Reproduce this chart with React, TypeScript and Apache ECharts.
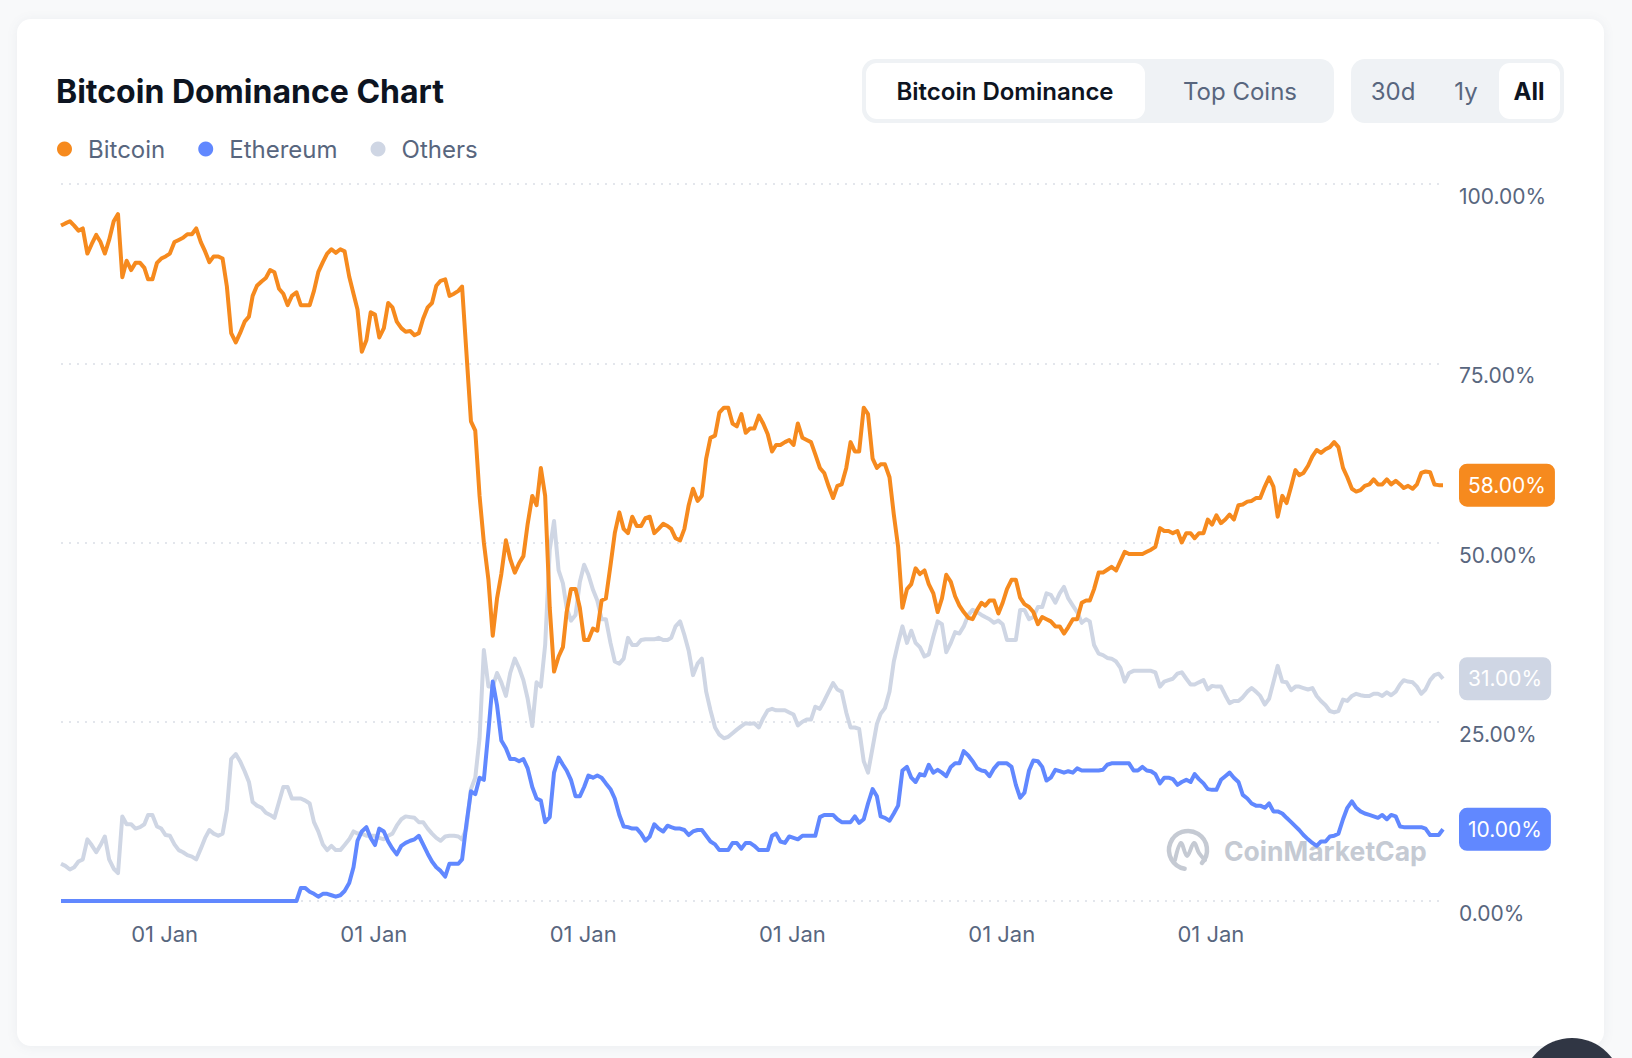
import React, { useEffect, useRef } from "react";
import * as echarts from "echarts";

// ---- data (semi-monthly samples) ----
const DATES: string[] = [
  "2013-05-01","2013-05-16","2013-06-01","2013-06-16","2013-07-01","2013-07-16","2013-08-01","2013-08-16","2013-09-01","2013-09-16","2013-10-01","2013-10-16","2013-11-01","2013-11-16","2013-12-01","2013-12-16",
  "2014-01-01","2014-01-16","2014-02-01","2014-02-16","2014-03-01","2014-03-16","2014-04-01","2014-04-16","2014-05-01","2014-05-16","2014-06-01","2014-06-16","2014-07-01","2014-07-16","2014-08-01","2014-08-16","2014-09-01","2014-09-16","2014-10-01","2014-10-16","2014-11-01","2014-11-16","2014-12-01","2014-12-16",
  "2015-01-01","2015-01-16","2015-02-01","2015-02-16","2015-03-01","2015-03-16","2015-04-01","2015-04-16","2015-05-01","2015-05-16","2015-06-01","2015-06-16","2015-07-01","2015-07-16","2015-08-01","2015-08-16","2015-09-01","2015-09-16","2015-10-01","2015-10-16","2015-11-01","2015-11-16","2015-12-01","2015-12-16",
  "2016-01-01","2016-01-16","2016-02-01","2016-02-16","2016-03-01","2016-03-16","2016-04-01","2016-04-16","2016-05-01","2016-05-16","2016-06-01","2016-06-16","2016-07-01","2016-07-16","2016-08-01","2016-08-16","2016-09-01","2016-09-16","2016-10-01","2016-10-16","2016-11-01","2016-11-16","2016-12-01","2016-12-16",
  "2017-01-01","2017-01-16","2017-02-01","2017-02-16","2017-03-01","2017-03-16","2017-04-01","2017-04-16","2017-05-01","2017-05-16","2017-06-01","2017-06-16","2017-07-01","2017-07-16","2017-08-01","2017-08-16","2017-09-01","2017-09-16","2017-10-01","2017-10-16","2017-11-01","2017-11-16","2017-12-01","2017-12-16",
  "2018-01-01","2018-01-16","2018-02-01","2018-02-16","2018-03-01","2018-03-16","2018-04-01","2018-04-16","2018-05-01","2018-05-16","2018-06-01","2018-06-16","2018-07-01","2018-07-16","2018-08-01","2018-08-16","2018-09-01","2018-09-16","2018-10-01","2018-10-16","2018-11-01","2018-11-16","2018-12-01","2018-12-16",
  "2019-01-01","2019-01-16","2019-02-01","2019-02-16","2019-03-01","2019-03-16","2019-04-01","2019-04-16","2019-05-01","2019-05-16","2019-06-01","2019-06-16","2019-07-01","2019-07-16","2019-08-01","2019-08-16","2019-09-01","2019-09-16","2019-10-01","2019-10-16","2019-11-01","2019-11-16","2019-12-01","2019-12-16",
  "2020-01-01","2020-01-16","2020-02-01","2020-02-16","2020-03-01","2020-03-16","2020-04-01","2020-04-16","2020-05-01","2020-05-16","2020-06-01","2020-06-16","2020-07-01","2020-07-16","2020-08-01","2020-08-16","2020-09-01","2020-09-16","2020-10-01","2020-10-16","2020-11-01","2020-11-16","2020-12-01","2020-12-16",
  "2021-01-01","2021-01-16","2021-02-01","2021-02-16","2021-03-01","2021-03-16","2021-04-01","2021-04-16","2021-05-01","2021-05-16","2021-06-01","2021-06-16","2021-07-01","2021-07-16","2021-08-01","2021-08-16","2021-09-01","2021-09-16","2021-10-01","2021-10-16","2021-11-01","2021-11-16","2021-12-01","2021-12-16",
  "2022-01-01","2022-01-16","2022-02-01","2022-02-16","2022-03-01","2022-03-16","2022-04-01","2022-04-16","2022-05-01","2022-05-16","2022-06-01","2022-06-16","2022-07-01","2022-07-16","2022-08-01","2022-08-16","2022-09-01","2022-09-16","2022-10-01","2022-10-16","2022-11-01","2022-11-16","2022-12-01","2022-12-16",
  "2023-01-01","2023-01-16","2023-02-01","2023-02-16","2023-03-01","2023-03-16","2023-04-01","2023-04-16","2023-05-01","2023-05-16","2023-06-01","2023-06-16","2023-07-01","2023-07-16","2023-08-01","2023-08-16","2023-09-01","2023-09-16","2023-10-01","2023-10-16","2023-11-01","2023-11-16","2023-12-01","2023-12-16",
  "2024-01-01","2024-01-16","2024-02-01","2024-02-16","2024-03-01","2024-03-16","2024-04-01","2024-04-16","2024-05-01","2024-05-16","2024-06-01","2024-06-16","2024-07-01","2024-07-16","2024-08-01","2024-08-16","2024-09-01","2024-09-16","2024-10-01","2024-10-16","2024-11-01","2024-11-16","2024-12-01","2024-12-16",
  "2025-01-01","2025-01-16","2025-02-01","2025-02-16","2025-03-01","2025-03-16","2025-04-01","2025-04-16","2025-05-01","2025-05-16","2025-06-01","2025-06-16","2025-07-01","2025-07-16","2025-08-01","2025-08-16","2025-09-01","2025-09-16","2025-10-01","2025-10-16","2025-11-01","2025-11-16","2025-12-01","2025-12-16",
  "2026-01-01","2026-01-16","2026-02-01","2026-02-16","2026-03-01","2026-03-16","2026-04-01","2026-04-16","2026-05-01","2026-05-16","2026-06-01","2026-06-16","2026-07-01","2026-07-16",
];

const BITCOIN: number[] = [
  94.2, 94.5, 94.8, 94.2, 93.5, 93.8, 90.3, 91.6, 92.9, 91.9, 90.3, 92.2, 94.8, 95.8, 87.0, 89.3,
  88.0, 89.0, 89.0, 88.3, 86.7, 86.7, 89.0, 89.6, 89.9, 90.3, 91.9, 92.2, 92.5, 93.0, 93.0, 93.8, 91.9, 90.6, 89.1, 89.9, 89.9, 89.6, 85.7, 79.2,
  77.9, 79.2, 80.8, 81.5, 84.4, 85.8, 86.4, 86.9, 88.0, 87.7, 85.4, 84.7, 83.1, 84.4, 84.9, 83.1, 83.1, 83.1, 85.1, 87.7, 89.1, 90.3, 90.9, 90.4,
  90.9, 90.6, 87.1, 84.7, 82.5, 76.6, 78.2, 82.1, 81.8, 78.6, 79.9, 83.4, 82.8, 80.8, 79.9, 79.4, 79.5, 78.9, 79.2, 81.2, 82.8, 83.4, 85.8, 86.5,
  86.7, 84.4, 84.7, 85.1, 85.7, 76.6, 66.9, 65.6, 56.5, 50.0, 44.8, 37.0, 42.2, 45.6, 50.3, 47.7, 45.8, 47.1, 48.1, 52.6, 56.5, 55.2, 60.4, 56.5,
  40.9, 32.0, 34.1, 35.4, 40.3, 43.5, 43.5, 40.9, 36.4, 36.4, 38.0, 37.7, 41.9, 42.2, 46.8, 51.3, 54.2, 51.9, 51.3, 53.6, 52.3, 52.3, 53.4, 53.6,
  51.3, 51.9, 52.6, 52.3, 51.9, 50.6, 50.3, 51.9, 55.2, 57.5, 55.8, 56.5, 61.7, 64.6, 64.9, 68.1, 68.8, 68.8, 66.6, 66.2, 67.9, 65.3, 65.9, 65.9,
  67.7, 66.6, 65.1, 62.7, 63.6, 63.6, 64.0, 64.3, 63.6, 66.6, 64.6, 64.3, 64.0, 62.3, 60.4, 59.7, 57.8, 56.2, 57.9, 58.1, 60.4, 64.0, 62.7, 62.7,
  68.8, 67.9, 61.7, 60.4, 60.9, 60.9, 59.1, 53.9, 49.4, 40.9, 43.5, 44.2, 46.4, 45.6, 46.1, 44.2, 42.9, 40.3, 42.2, 45.5, 44.5, 42.5, 41.2, 40.3,
  39.5, 39.3, 40.6, 41.6, 41.2, 41.9, 41.9, 40.1, 41.6, 43.5, 44.8, 44.8, 42.3, 41.4, 41.0, 40.3, 38.6, 39.6, 39.3, 39.0, 38.3, 38.3, 37.3, 38.2,
  39.3, 39.3, 41.6, 41.9, 41.9, 43.5, 45.8, 45.8, 46.2, 46.6, 46.1, 47.4, 48.7, 48.4, 48.4, 48.4, 48.4, 48.7, 49.0, 49.4, 52.0, 51.6, 51.6, 51.3,
  51.6, 50.0, 51.3, 51.3, 50.6, 51.3, 51.3, 53.2, 52.5, 53.8, 52.7, 53.2, 53.9, 53.2, 55.2, 55.3, 55.7, 55.8, 56.2, 56.2, 57.8, 59.1, 57.8, 53.6,
  56.5, 55.5, 57.8, 60.1, 59.4, 59.7, 60.7, 62.0, 62.9, 62.5, 63.0, 63.3, 64.0, 63.3, 60.4, 59.1, 57.5, 57.1, 57.3, 57.9, 58.1, 58.8, 58.1, 58.1,
  58.8, 58.1, 58.6, 58.1, 57.6, 57.9, 57.5, 58.1, 59.7, 59.9, 59.8, 58.1, 58.0, 58.0,
];

const ETHEREUM: number[] = [
  0, 0, 0, 0, 0, 0, 0, 0, 0, 0, 0, 0, 0, 0, 0, 0,
  0, 0, 0, 0, 0, 0, 0, 0, 0, 0, 0, 0, 0, 0, 0, 0, 0, 0, 0, 0, 0, 0, 0, 0,
  0, 0, 0, 0, 0, 0, 0, 0, 0, 0, 0, 0, 0, 0, 0, 1.8, 1.8, 1.3, 1.0, 0.6, 1.0, 1.0, 0.8, 0.6,
  0.8, 1.4, 2.5, 4.7, 8.4, 9.7, 10.3, 8.8, 7.8, 10.1, 9.7, 8.3, 7.3, 6.5, 7.7, 8.1, 8.4, 8.6, 9.1, 7.9, 6.6, 5.5, 4.7, 4.2,
  3.4, 5.2, 5.2, 5.2, 5.8, 10.7, 15.3, 14.9, 17.2, 16.9, 23.7, 30.6, 27.3, 22.4, 21.3, 19.8, 19.8, 19.5, 19.8, 18.5, 15.9, 14.3, 14.0, 11.0,
  11.7, 17.9, 20.0, 19.0, 18.2, 16.9, 14.6, 14.6, 15.9, 17.5, 17.2, 17.5, 17.2, 16.4, 15.6, 14.3, 12.0, 10.4, 10.3, 10.1, 10.1, 9.4, 8.4, 9.0,
  10.7, 10.1, 9.7, 10.5, 10.3, 10.1, 10.1, 9.9, 9.2, 9.7, 9.9, 9.9, 9.1, 8.3, 7.9, 7.1, 7.1, 7.1, 8.1, 8.1, 7.3, 8.1, 8.1, 7.7,
  7.1, 7.1, 7.1, 9.1, 9.4, 8.3, 8.1, 9.0, 8.8, 8.6, 9.1, 9.1, 9.1, 9.1, 11.7, 12.0, 12.0, 12.0, 11.4, 11.0, 11.0, 11.0, 11.8, 10.9,
  11.4, 13.6, 15.6, 14.6, 11.8, 11.6, 11.2, 12.2, 13.3, 18.2, 18.7, 17.2, 16.6, 17.7, 17.5, 19.0, 17.9, 18.3, 17.9, 17.4, 18.7, 19.2, 19.2, 20.9,
  20.3, 19.5, 18.5, 18.2, 18.1, 17.4, 18.5, 19.2, 19.2, 19.2, 18.7, 16.2, 14.4, 15.1, 18.2, 19.6, 19.5, 18.7, 16.8, 17.2, 18.3, 18.1, 17.9, 18.1,
  17.9, 18.5, 18.2, 18.2, 18.2, 18.2, 18.2, 18.3, 19.0, 19.2, 19.2, 19.2, 19.2, 19.2, 18.2, 18.2, 18.7, 18.2, 18.1, 17.7, 16.4, 17.2, 17.2, 17.0,
  16.2, 16.6, 16.9, 16.6, 17.7, 17.0, 16.4, 15.6, 15.5, 15.5, 16.9, 17.4, 17.9, 17.2, 16.6, 14.8, 14.3, 13.6, 13.3, 13.3, 13.0, 13.6, 12.5, 12.5,
  12.2, 11.6, 11.0, 10.4, 9.9, 9.2, 8.6, 8.1, 7.7, 8.3, 8.3, 9.0, 9.1, 9.4, 11.4, 13.0, 13.9, 13.0, 12.5, 12.2, 12.0, 11.8, 11.6, 12.0,
  11.4, 12.0, 11.8, 10.4, 10.3, 10.3, 10.3, 10.3, 10.3, 10.1, 9.2, 9.2, 9.2, 10.0,
];

const OTHERS: number[] = [
  5.2, 4.9, 4.4, 4.7, 5.5, 5.8, 8.6, 7.8, 6.8, 7.8, 9.0, 5.8, 4.5, 3.9, 11.8, 10.7,
  10.7, 10.1, 10.3, 10.7, 12.0, 12.0, 10.4, 10.1, 9.2, 9.1, 7.9, 7.1, 6.8, 6.4, 6.2, 5.8, 7.3, 8.8, 9.9, 9.4, 9.1, 9.4, 12.7, 19.8,
  20.5, 19.5, 18.1, 16.6, 13.8, 13.3, 13.0, 12.3, 12.0, 11.6, 13.8, 15.9, 15.9, 14.3, 14.3, 14.3, 14.0, 13.6, 11.0, 9.7, 7.9, 7.1, 7.7, 7.1,
  7.1, 7.8, 8.6, 9.7, 9.4, 9.4, 9.1, 9.1, 9.1, 8.8, 8.6, 9.1, 9.4, 10.5, 11.4, 11.8, 11.7, 11.6, 11.0, 11.0, 10.1, 9.4, 8.8, 8.4,
  9.0, 9.1, 9.1, 9.0, 8.6, 10.1, 15.6, 17.2, 22.7, 35.0, 29.9, 29.9, 31.8, 30.5, 28.6, 31.8, 33.8, 32.5, 30.8, 28.2, 24.4, 30.5, 29.9, 35.7,
  49.0, 53.0, 46.1, 44.3, 40.9, 39.1, 39.9, 44.5, 46.9, 45.5, 43.4, 41.9, 39.3, 39.3, 36.0, 33.4, 33.1, 33.8, 36.7, 35.7, 35.7, 36.4, 36.5, 36.5,
  36.5, 36.7, 36.4, 36.4, 36.7, 38.3, 39.0, 37.1, 34.9, 31.5, 33.1, 33.8, 29.2, 26.6, 24.2, 23.2, 22.7, 22.9, 23.4, 23.9, 24.4, 24.8, 24.7, 24.8,
  24.2, 25.5, 26.6, 26.8, 26.6, 26.6, 26.6, 26.3, 26.0, 24.5, 25.0, 25.3, 25.3, 27.1, 26.8, 27.9, 29.2, 30.4, 29.5, 29.2, 26.3, 24.2, 24.2, 24.0,
  19.5, 17.9, 21.4, 24.7, 26.1, 26.9, 29.2, 33.4, 36.0, 38.3, 36.0, 37.7, 36.0, 35.4, 34.1, 34.4, 36.9, 39.0, 38.6, 34.7, 36.0, 37.5, 37.3, 38.3,
  39.9, 40.6, 40.3, 39.9, 39.6, 39.3, 38.8, 39.1, 38.6, 36.4, 36.4, 36.4, 40.6, 40.6, 39.3, 39.6, 41.0, 41.0, 42.9, 42.7, 41.6, 42.9, 43.8, 42.2,
  41.2, 40.3, 38.8, 39.3, 39.0, 35.7, 34.5, 34.3, 33.9, 33.8, 33.4, 32.5, 30.6, 31.8, 32.1, 32.1, 32.1, 32.1, 32.1, 31.9, 29.9, 30.6, 30.8, 31.0,
  31.7, 31.9, 31.0, 30.2, 30.2, 30.5, 30.8, 29.5, 30.0, 29.9, 29.9, 28.7, 27.6, 27.9, 27.9, 28.4, 29.2, 29.7, 29.2, 28.6, 27.4, 28.2, 30.5, 32.8,
  30.6, 30.5, 29.4, 29.9, 29.9, 29.7, 29.5, 29.7, 28.6, 27.9, 27.3, 26.5, 26.3, 26.5, 28.1, 27.9, 28.6, 28.9, 28.7, 28.6, 28.6, 28.9, 28.9, 28.6,
  29.1, 28.7, 29.2, 30.2, 30.8, 30.6, 30.5, 29.9, 28.9, 29.5, 30.8, 31.5, 31.7, 31.0,
];

const X_TICKS: string[] = ["2014-01-01", "2016-01-01", "2018-01-01", "2020-01-01", "2022-01-01", "2024-01-01"];
const X_TICK_LABEL = "01 Jan";
const Y_TICKS: number[] = [0, 25, 50, 75, 100];

const SERIES_NAMES = ["Bitcoin", "Ethereum", "Others"];
const COLORS: Record<string, string> = { Bitcoin: "#F68A1E", Ethereum: "#6188FF", Others: "#CFD6E4" };

const TOGGLE_1 = ["Bitcoin Dominance", "Top Coins"];
const TOGGLE_2 = ["30d", "1y", "All"];

const FONT = "Inter, 'Noto Sans', sans-serif";

function ts(s: string): number {
  const [y, m, d] = s.split("-").map(Number);
  return Date.UTC(y, m - 1, d);
}

function buildOption() {
  const pairs = (vals: number[]) => DATES.map((d, i) => [ts(d), vals[i]]);
  const valuesByName: Record<string, number[]> = { Bitcoin: BITCOIN, Ethereum: ETHEREUM, Others: OTHERS };
  const drawOrder = ["Others", "Ethereum", "Bitcoin"];

  const series = drawOrder.map((name) => ({
    name,
    type: "line",
    data: pairs(valuesByName[name]),
    showSymbol: false,
    symbol: "none",
    silent: true,
    color: COLORS[name],
    lineStyle: { width: 4, color: COLORS[name], join: "round" },
    z: 3,
    endLabel: {
      show: true,
      formatter: (p: any) => Number(p.value[1]).toFixed(2) + "%",
      distance: 16,
      backgroundColor: COLORS[name],
      borderRadius: 8,
      padding: [10, 9, 10, 9],
      color: "#ffffff",
      fontFamily: FONT,
      fontSize: 21,
      lineHeight: 23,
    },
  }));

  const txt = (text: string, x: number, y: number, color: string, weight: number | string, size = 24) => ({
    type: "text",
    x,
    y,
    style: {
      text,
      fill: color,
      fontFamily: FONT,
      fontSize: size,
      fontWeight: weight,
      textAlign: "center",
      textVerticalAlign: "middle",
    },
  });

  const graphic: any[] = [
    { type: "rect", shape: { x: 862, y: 59, width: 472, height: 64, r: 14 }, style: { fill: "#EFF2F5" } },
    { type: "rect", shape: { x: 866, y: 63, width: 279, height: 56, r: 11 }, style: { fill: "#FFFFFF" } },
    txt(TOGGLE_1[0], 1005, 91, "#0D1421", 600),
    txt(TOGGLE_1[1], 1240, 91, "#58667E", 400),
    { type: "rect", shape: { x: 1351, y: 59, width: 213, height: 64, r: 14 }, style: { fill: "#EFF2F5" } },
    { type: "rect", shape: { x: 1499, y: 63, width: 61, height: 56, r: 11 }, style: { fill: "#FFFFFF" } },
    txt(TOGGLE_2[0], 1393, 91, "#58667E", 400),
    txt(TOGGLE_2[1], 1466, 91, "#58667E", 400),
    txt(TOGGLE_2[2], 1529, 91, "#0D1421", 700),
    {
      type: "arc",
      z: 1,
      shape: { cx: 1188, cy: 850, r: 19, startAngle: 1.75, endAngle: 0.75, clockwise: true },
      style: { stroke: "#C5CAD3", lineWidth: 4.5, fill: "none", lineCap: "round" },
    },
    {
      type: "polyline",
      z: 1,
      shape: { points: [[1175, 860], [1181, 843], [1187, 856], [1194, 843], [1199, 853], [1205, 860]], smooth: 0.35 },
      style: { stroke: "#C5CAD3", lineWidth: 4, fill: "none", lineCap: "round", lineJoin: "round" },
    },
    {
      type: "text",
      z: 1,
      x: 1224,
      y: 851,
      style: {
        text: "CoinMarketCap",
        fill: "#C5CAD3",
        fontFamily: FONT,
        fontSize: 26.5,
        fontWeight: 700,
        textAlign: "left",
        textVerticalAlign: "middle",
      },
    },
  ];

  return {
    animation: false,
    backgroundColor: "transparent",
    textStyle: { fontFamily: FONT },
    title: {
      text: "Bitcoin Dominance Chart",
      left: 56,
      top: 72,
      padding: 0,
      textStyle: { fontFamily: FONT, fontSize: 32, fontWeight: 700, color: "#0D1421", lineHeight: 38 },
    },
    legend: {
      left: 57,
      top: 137,
      padding: 0,
      icon: "circle",
      itemWidth: 15,
      itemHeight: 15,
      itemGap: 33,
      selectedMode: false,
      data: SERIES_NAMES,
      textStyle: { fontFamily: FONT, fontSize: 24, color: "#58667E", padding: [0, 0, 0, 11] },
    },
    grid: { left: 61, right: 189, top: 184, bottom: 157, containLabel: false },
    xAxis: {
      type: "value",
      min: ts(DATES[0]),
      max: ts(DATES[DATES.length - 1]),
      axisLine: { show: false },
      axisTick: { show: false },
      splitLine: { show: false },
      axisLabel: {
        customValues: X_TICKS.map(ts),
        formatter: () => X_TICK_LABEL,
        align: "left",
        margin: 22,
        fontFamily: FONT,
        fontSize: 22,
        color: "#58667E",
        showMinLabel: true,
        showMaxLabel: true,
      },
    },
    yAxis: {
      type: "value",
      position: "right",
      min: Y_TICKS[0],
      max: Y_TICKS[Y_TICKS.length - 1],
      interval: 25,
      axisLine: { show: false },
      axisTick: { show: false },
      axisLabel: {
        formatter: (v: number) => v.toFixed(2) + "%",
        margin: 16,
        fontFamily: FONT,
        fontSize: 21,
        color: "#58667E",
        verticalAlign: "top",
        lineHeight: 25,
      },
      splitLine: { show: true, lineStyle: { type: [2, 6], width: 2, color: "#E3E6EC" } },
    },
    series,
    graphic,
  };
}

export default function App() {
  const ref = useRef<HTMLDivElement>(null);
  useEffect(() => {
    document.body.style.margin = "0";
    if (!ref.current) return;
    const chart = echarts.init(ref.current, null, { renderer: "svg" });
    chart.setOption(buildOption() as any);
    return () => chart.dispose();
  }, []);
  return (
    <div
      style={{
        position: "relative",
        width: 1632,
        height: 1058,
        background: "#F8F9FA",
        overflow: "hidden",
        fontFamily: FONT,
      }}
    >
      <div
        style={{
          position: "absolute",
          left: 17,
          top: 19,
          width: 1587,
          height: 1027,
          background: "#FFFFFF",
          borderRadius: 14,
          boxShadow: "0 1px 12px rgba(88,102,126,0.08)",
        }}
      />
      <div ref={ref} style={{ position: "absolute", left: 0, top: 0, width: 1632, height: 1058 }} />
      <div
        style={{
          position: "absolute",
          left: 1522,
          top: 1038,
          width: 100,
          height: 100,
          borderRadius: "50%",
          background: "#303644",
        }}
      />
    </div>
  );
}
